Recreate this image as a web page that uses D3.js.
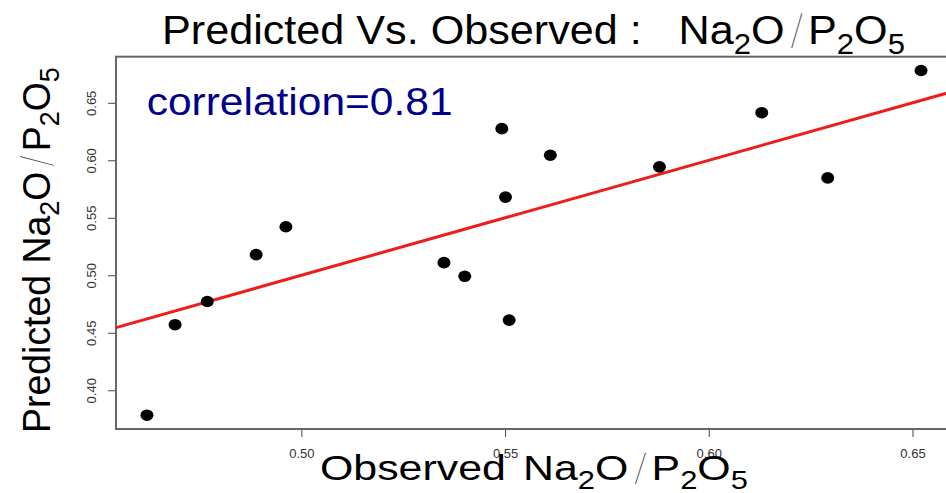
<!DOCTYPE html>
<html>
<head>
<meta charset="utf-8">
<script src="https://cdn.jsdelivr.net/npm/d3@7"></script>
<style>
  body { margin: 0; background: #fff; }
  text { font-family: "Liberation Sans", Arial, sans-serif; }
  .slash { font-family: Inter, "DejaVu Sans", sans-serif; font-weight: 100; fill: #555; }
</style>
</head>
<body>
<svg id="chart" width="946" height="493"></svg>
<script>
// observed vs predicted Na2O/P2O5
const observed = [0.4621, 0.4690, 0.4769, 0.4889, 0.4962, 0.5350, 0.5401, 0.5492, 0.5501, 0.5510, 0.5611, 0.5879, 0.6130, 0.6292, 0.6521];
const predicted = [0.3783, 0.4570, 0.4772, 0.5180, 0.5422, 0.5110, 0.4991, 0.6275, 0.5680, 0.4610, 0.6044, 0.5943, 0.6414, 0.5847, 0.6781];
const xTicks = [0.50, 0.55, 0.60, 0.65];
const yTicks = [0.40, 0.45, 0.50, 0.55, 0.60, 0.65];
const correlation = 0.81;

// Na2O / P2O5 written as pieces (sub = subscript)
const ratio = [
  { t: 'Na' }, { t: '2', sub: true }, { t: 'O' },
  { t: '/', slash: true }, { t: 'P' }, { t: '2', sub: true }, { t: 'O' }, { t: '5', sub: true }
];

const svg = d3.select('#chart');
const plot = { left: 116, right: 952, top: 56.7, bottom: 429 };

// R style axis range: data extent padded by 4%
function pad(ext) {
  const r = ext[1] - ext[0];
  return [ext[0] - 0.04 * r, ext[1] + 0.04 * r];
}

const xScale = d3.scaleLinear()
  .domain(pad(d3.extent(observed)))
  .range([plot.left, plot.right]);

const yScale = d3.scaleLinear()
  .domain(pad(d3.extent(predicted)))
  .range([plot.bottom, plot.top]);

// axes
const xAxis = svg.append('g')
  .attr('transform', `translate(0, ${plot.bottom})`)
  .call(d3.axisBottom(xScale).tickValues(xTicks).tickSize(8).tickFormat(d3.format('.2f')));
xAxis.select('.domain').remove();
xAxis.selectAll('line').attr('stroke', '#444');
xAxis.selectAll('text')
  .attr('y', 29).attr('dy', 0)
  .attr('font-size', 13).attr('fill', '#333')
  .style('font-family', '"Liberation Sans", Arial, sans-serif');

const yAxis = svg.append('g')
  .attr('transform', `translate(${plot.left}, 0)`)
  .call(d3.axisLeft(yScale).tickValues(yTicks).tickSize(8).tickFormat(d3.format('.2f')));
yAxis.select('.domain').remove();
yAxis.selectAll('line').attr('stroke', '#444');
yAxis.selectAll('text')
  .attr('x', 0).attr('dy', 0)
  .attr('transform', 'translate(-20.5, 0) rotate(-90)')
  .attr('text-anchor', 'middle')
  .attr('font-size', 13).attr('fill', '#333')
  .style('font-family', '"Liberation Sans", Arial, sans-serif');

// box round the plot
svg.append('rect')
  .attr('x', plot.left)
  .attr('y', plot.top)
  .attr('width', plot.right - plot.left)
  .attr('height', plot.bottom - plot.top)
  .attr('fill', 'none')
  .attr('stroke', '#666')
  .attr('stroke-width', 2);

// 1:1 reference line
const lineEnds = xScale.domain();
const line = d3.line()
  .x((d) => xScale(d))
  .y((d) => yScale(d));

svg.append('path')
  .attr('d', line(lineEnds))
  .attr('fill', 'none')
  .attr('stroke', '#ee1c1c')
  .attr('stroke-width', 3);

svg.selectAll('.pt')
  .data(observed)
  .enter()
  .append('ellipse')
  .attr('class', 'pt')
  .attr('cx', (d) => xScale(d))
  .attr('cy', (d, i) => yScale(predicted[i]))
  .attr('rx', 6.5)
  .attr('ry', 5.8)
  .attr('fill', '#000');

// text helpers: build a label from pieces, then stretch it to the span it has in the picture
function addText(parent, parts, size) {
  const t = parent.append('text').attr('font-size', size);
  let down = false;
  parts.forEach((p) => {
    const ts = t.append('tspan').text(p.t);
    let dy = 0;
    if (p.sub) {
      ts.attr('font-size', size * 0.72);
      if (!down) dy = size * 0.24;
      down = true;
    } else if (down) {
      dy = -size * 0.24;
      down = false;
    }
    if (dy) ts.attr('dy', dy);
    if (p.dx) ts.attr('dx', p.dx * size);
    if (p.slash) ts.attr('class', 'slash').attr('dx', 0.12 * size);
    if (p.afterSlash) ts.attr('dx', 0.1 * size);
  });
  return t;
}

function fit(parts, size, x0, x1, base, rotated, color) {
  const g = svg.append('g');
  const t = addText(g, parts, size);
  if (color) t.attr('fill', color);
  const box = t.node().getBBox();
  const sx = Math.abs(x1 - x0) / box.width;
  if (rotated) {
    // x0 is the start (bottom), x1 the end (top), base is baseline x
    g.attr('transform', `translate(${base}, ${x0 + box.x * sx}) rotate(-90) scale(${sx}, 1)`);
  } else {
    g.attr('transform', `translate(${x0 - box.x * sx}, ${base}) scale(${sx}, 1)`);
  }
  return g;
}

function withSlashGap(parts) {
  return parts.map((p, i) => (i > 0 && parts[i - 1].slash) ? Object.assign({}, p, { afterSlash: true }) : p);
}

const ratioParts = withSlashGap(ratio);

fit([{ t: 'Predicted Vs. Observed :' }, Object.assign({}, ratioParts[0], { dx: 0.85 })].concat(ratioParts.slice(1)),
  40, 162, 905, 44);

fit([{ t: 'Observed' }, Object.assign({}, ratioParts[0], { dx: 0.4 })].concat(ratioParts.slice(1)),
  36, 320, 748, 480);

fit([{ t: 'Predicted' }, Object.assign({}, ratioParts[0], { dx: 0.3 })].concat(ratioParts.slice(1)),
  39, 433, 67, 50, true);

fit([{ t: `correlation=${correlation}` }], 39, 146.7, 452.7, 115, false, '#00008b');
</script>
</body>
</html>
